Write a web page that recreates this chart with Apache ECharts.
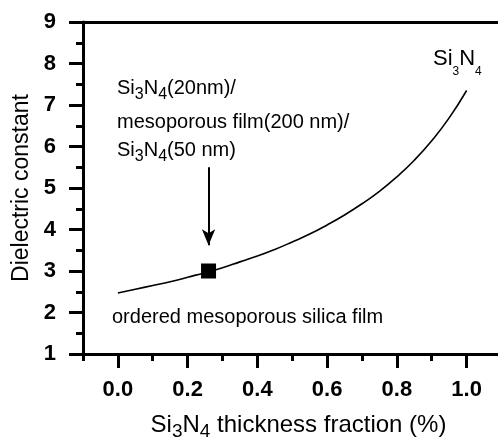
<!DOCTYPE html>
<html>
<head>
<meta charset="utf-8">
<script src="https://cdn.jsdelivr.net/npm/echarts@6/dist/echarts.min.js"></script>
<style>
  html, body { margin: 0; padding: 0; background: #fff; }
  #chart { width: 498px; height: 446px; }
</style>
</head>
<body>
<div id="chart"></div>
<script>
// data
var fraction = [0, 0.05, 0.1, 0.15, 0.2, 0.25, 0.3, 0.35, 0.4, 0.45, 0.5,
                0.55, 0.6, 0.65, 0.7, 0.75, 0.8, 0.85, 0.9, 0.95, 1.0];
var dielectric = [2.47, 2.56, 2.65, 2.74, 2.85, 2.96, 3.08, 3.22, 3.36, 3.52, 3.70,
                  3.89, 4.11, 4.35, 4.62, 4.92, 5.27, 5.67, 6.14, 6.69, 7.35];
var sample = [0.26, 3.0];
var arrowFrom = [0.26, 5.5];
var arrowTo = [0.26, 3.62];
var xMajor = [0, 0.2, 0.4, 0.6, 0.8, 1.0];
var xMinor = [-0.1, 0.1, 0.3, 0.5, 0.7, 0.9];

var FONT = 'Liberation Sans, Arial, sans-serif';

var curve = fraction.map(function (f, i) { return [f, dielectric[i]]; });

var chart = echarts.init(document.getElementById('chart'));
chart.setOption({
  animation: false,
  backgroundColor: '#fff',
  grid: { left: 83, right: 0, top: 22, bottom: 87 },
  xAxis: [
    {
      type: 'value', min: -0.1, max: 1.09, position: 'bottom',
      axisLine: { onZero: false, lineStyle: { color: '#000', width: 3 } },
      axisTick: { customValues: xMajor, length: 14, lineStyle: { color: '#000', width: 3 } },
      axisLabel: {
        customValues: xMajor, margin: 25,
        color: '#000', fontFamily: FONT, fontSize: 22, fontWeight: 'bold',
        formatter: function (v) { return v.toFixed(1); }
      },
      splitLine: { show: false },
      name: 'Si{s|3}N{s|4} thickness fraction (%)',
      nameLocation: 'middle', nameGap: 56,
      nameTextStyle: {
        color: '#000', fontFamily: FONT, fontSize: 24, padding: [0, 0, 0, 16],
        rich: { s: { fontFamily: FONT, fontSize: 19, padding: [12, 0, 0, 0] } }
      }
    },
    {
      type: 'value', min: -0.1, max: 1.09, position: 'bottom',
      axisLine: { show: false, onZero: false },
      axisTick: { customValues: xMinor, length: 7, lineStyle: { color: '#000', width: 3 } },
      axisLabel: { show: false },
      splitLine: { show: false }
    },
    {
      type: 'value', min: -0.1, max: 1.09, position: 'top',
      axisLine: { onZero: false, lineStyle: { color: '#000', width: 3 } },
      axisTick: { show: false },
      axisLabel: { show: false },
      splitLine: { show: false }
    }
  ],
  yAxis: {
    type: 'value', min: 1, max: 9, interval: 1,
    axisLine: { show: true, onZero: false, lineStyle: { color: '#000', width: 3 } },
    axisTick: { length: 14, lineStyle: { color: '#000', width: 3 } },
    minorTick: { show: true, splitNumber: 2, length: 7, lineStyle: { color: '#000', width: 3 } },
    axisLabel: { margin: 27, color: '#000', fontFamily: FONT, fontSize: 22, fontWeight: 'bold' },
    splitLine: { show: false },
    minorSplitLine: { show: false },
    name: 'Dielectric constant',
    nameLocation: 'middle', nameGap: 50,
    nameTextStyle: { color: '#000', fontFamily: FONT, fontSize: 23 }
  },
  series: [
    {
      type: 'line',
      xAxisIndex: 0,
      data: curve,
      smooth: true,
      showSymbol: false,
      lineStyle: { color: '#000', width: 1.6 },
      z: 2
    },
    {
      type: 'scatter',
      xAxisIndex: 0,
      data: [sample],
      symbol: 'rect',
      symbolSize: 15,
      itemStyle: { color: '#000', opacity: 1 },
      z: 3,
      markLine: {
        silent: true,
        symbol: ['none', 'arrow'],
        symbolSize: [10, 16],
        label: { show: false },
        lineStyle: { color: '#000', width: 2, type: 'solid', opacity: 1 },
        data: [[{ coord: arrowFrom }, { coord: arrowTo }]]
      }
    }
  ],
  graphic: [
    {
      type: 'text', x: 117, y: 88,
      style: {
        text: 'Si{s|3}N{s|4}(20nm)/', fill: '#000',
        fontFamily: FONT, fontSize: 20, verticalAlign: 'middle',
        rich: { s: { fontFamily: FONT, fontSize: 16, padding: [14, 0, 0, 0] } }
      }
    },
    {
      type: 'text', x: 117, y: 122,
      style: {
        text: 'mesoporous film(200 nm)/', fill: '#000',
        fontFamily: FONT, fontSize: 20, verticalAlign: 'middle'
      }
    },
    {
      type: 'text', x: 117, y: 150,
      style: {
        text: 'Si{s|3}N{s|4}(50 nm)', fill: '#000',
        fontFamily: FONT, fontSize: 20, verticalAlign: 'middle',
        rich: { s: { fontFamily: FONT, fontSize: 16, padding: [14, 0, 0, 0] } }
      }
    },
    {
      type: 'text', x: 112, y: 317,
      style: {
        text: 'ordered mesoporous silica film', fill: '#000',
        fontFamily: FONT, fontSize: 20, verticalAlign: 'middle'
      }
    },
    {
      type: 'text', x: 433, y: 59,
      style: {
        text: 'Si{s|3}N{s|4}', fill: '#000',
        fontFamily: FONT, fontSize: 22, verticalAlign: 'middle',
        rich: { s: { fontFamily: FONT, fontSize: 12, padding: [26, 0, 0, 0] } }
      }
    }
  ]
});
</script>
</body>
</html>
